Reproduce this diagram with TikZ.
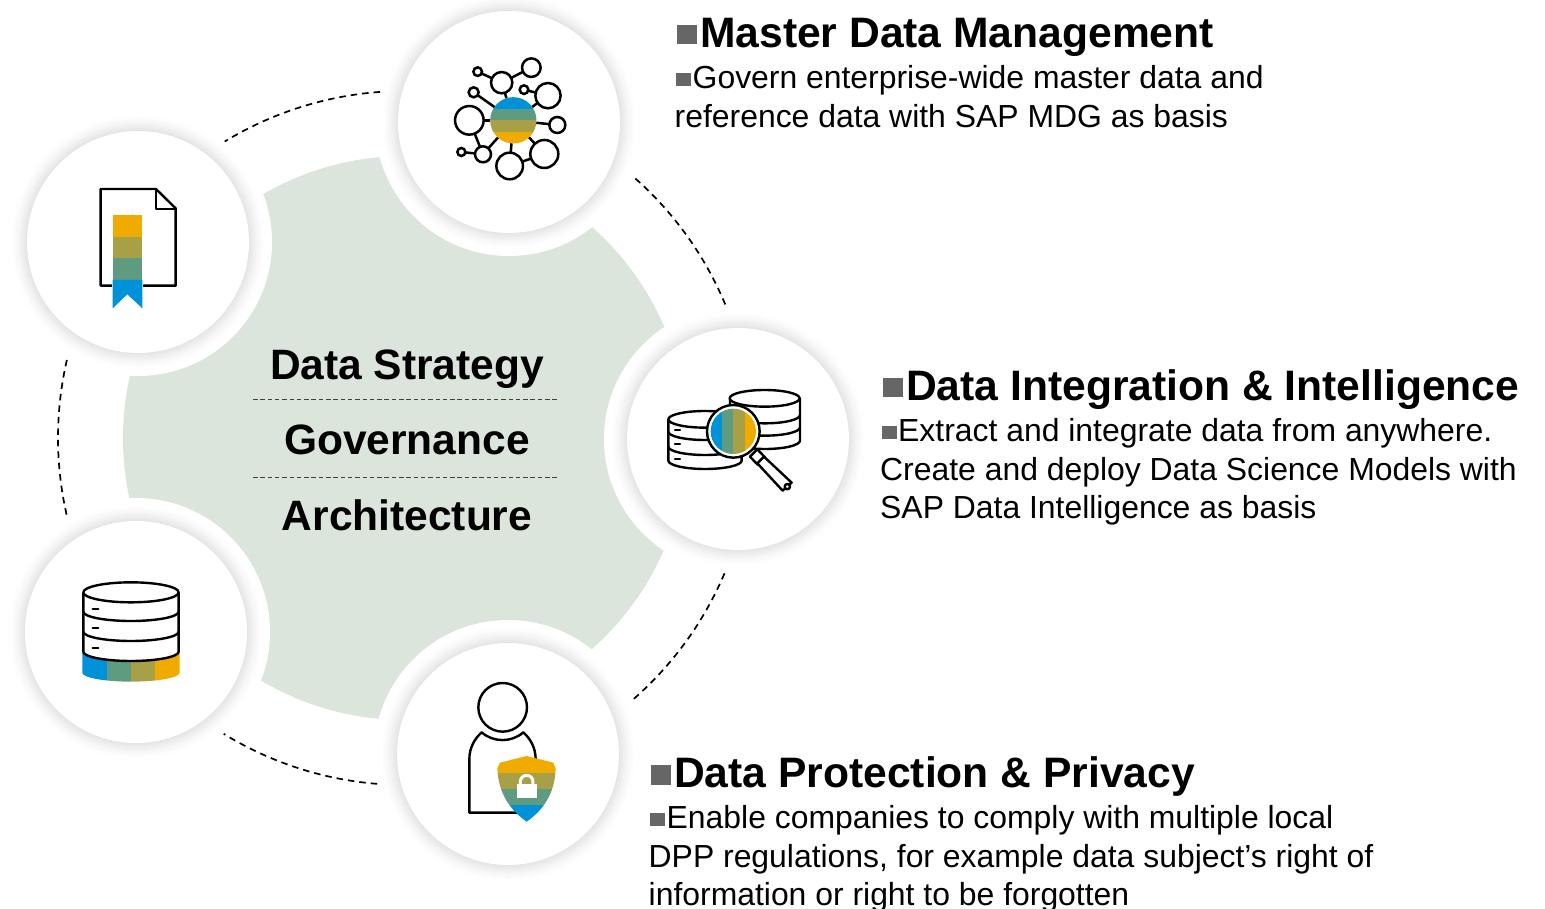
\documentclass[tikz,border=0pt]{standalone}
\usepackage{fontspec}
\setmainfont{Liberation Sans}
\usetikzlibrary{calc}
\definecolor{sblue}{HTML}{0092D8}
\definecolor{sgreen}{HTML}{5F9B80}
\definecolor{solive}{HTML}{A8A046}
\definecolor{syellow}{HTML}{F0AB00}
\definecolor{blob}{HTML}{DCE5DB}
\definecolor{bul}{HTML}{666666}
\newcommand{\titlebul}{\kern1pt\textcolor{bul}{\rule[3pt]{20pt}{19.5pt}}\kern3pt}
\newcommand{\bodybul}{\kern1.5pt\textcolor{bul}{\rule[3pt]{15pt}{13pt}}\kern1.5pt}
\tikzset{
  x=1pt,y=-1pt,
  bubble/.style={circle,minimum size=222pt,inner sep=0pt,fill=white,draw=none},
  ring dash/.style={draw=black,line width=1.7pt,dash pattern=on 6.5pt off 5pt},
  rule dash/.style={draw=black!75,line width=0.9pt,dash pattern=on 4.5pt off 2.8pt},
  center label/.style={font=\fontsize{42.5}{48}\selectfont\bfseries,inner sep=0pt,anchor=base},
  head label/.style={font=\fontsize{42.6}{48}\selectfont\bfseries,inner sep=0pt,anchor=base west},
  body label/.style={font=\fontsize{31.9}{38.4}\selectfont,inner sep=0pt,anchor=north west,align=left},
  ico/.style={draw=black,line width=2.4pt,line join=round},
  netnode/.style={circle,draw=black,line width=2.5pt,fill=white,inner sep=0pt,outer sep=0pt},
}
\begin{document}
\begin{tikzpicture}[x=1pt,y=-1pt]
\useasboundingbox (0,0) rectangle (1545,909);
\coordinate (cen) at (405,438);
\fill[blob] (cen) circle (282);
% halos
\foreach \px/\py in {509/122,738/439,508/754,136/632,138/242}{
  \fill[white] (\px,\py) circle (134);
  \foreach \rr in {128,127,...,111}{
    \pgfmathsetmacro{\sh}{11*((128-\rr)/17)^1.5}
    \fill[black!\sh!white] (\px,\py) circle (\rr);
  }
}
\foreach \nm/\px/\py in {a/509/122,b/738/439,c/508/754,d/136/632,e/138/242}{
  \node[bubble] (\nm) at (\px,\py) {};
}
% dashed ring
\draw[ring dash] (cen) ++(265.87:347) arc[start angle=265.87,end angle=238.7,radius=347];
\draw[ring dash] (cen) ++(-48.4:347) arc[start angle=-48.4,end angle=-22.4,radius=347];
\draw[ring dash] (cen) ++(22.96:347) arc[start angle=22.96,end angle=49.4,radius=347];
\draw[ring dash] (cen) ++(94.6:347) arc[start angle=94.6,end angle=121.5,radius=347];
\draw[ring dash] (cen) ++(193:347) arc[start angle=193,end angle=166.6,radius=347];
% centre text
\node[center label] (t1) at (407,379.5) {Data Strategy};
\node[center label] (t2) at (407,454.5) {Governance};
\node[center label] (t3) at (407,530.5) {Architecture};
\coordinate (r1a) at (253,399); \coordinate (r1b) at (558,399);
\coordinate (r2a) at (253,477); \coordinate (r2b) at (558,477);
\draw[rule dash] (r1a) -- (r1b);
\draw[rule dash] (r2a) -- (r2b);
% right texts
\node[head label] (h1) at (676,47.5) {\titlebul Master Data Management};
\node[body label] (b1) at (674.5,65.5) {\bodybul Govern enterprise-wide master data and\\reference data with SAP MDG as basis};
\node[head label] (h2) at (882,400) {\titlebul Data Integration \& Intelligence};
\node[body label] (b2) at (880,418.5) {\bodybul Extract and integrate data from anywhere.\\Create and deploy Data Science Models with\\SAP Data Intelligence as basis};
\node[head label] (h3) at (650,787.5) {\titlebul Data Protection \& Privacy};
\node[body label] (b3) at (648.5,805.5) {\bodybul Enable companies to comply with multiple local\\DPP regulations, for example data subject’s right of\\information or right to be forgotten};
% ---- network icon
\begin{scope}[shift={(430,40)},x=0.3333pt,y=-0.3333pt]
  \node[circle,minimum size=46pt,inner sep=0pt,outer sep=0pt] (nc) at (250,241) {};
  \foreach \nm/\nx/\ny/\nd in {nA/215/128/21.3,nB/304/83/18.6,nC/143/95/8.6,nD/131/157/10,nE/282/149/8.6,nF/354/167/25.3,nG/118/241/28.6,nH/382/255/16,nI/343/342/28,nJ/239/378/26.6,nK/159/343/16,nL/94/336/8}{
    \node[netnode,minimum size=\nd pt] (\nm) at (\nx,\ny) {};
  }
  \foreach \u/\v in {nC/nA,nA/nB,nA/nc,nD/nc,nE/nF,nF/nc,nG/nc,nH/nc,nI/nc,nI/nJ,nJ/nc,nK/nc,nG/nK,nK/nL}{
    \draw[line width=2.5pt] (\u) -- (\v);
  }
  \begin{scope}
    \clip (250,241) circle (69.5);
    \fill[sblue] (170,165) rectangle (330,207);
    \fill[sgreen] (170,207) rectangle (330,241);
    \fill[solive] (170,241) rectangle (330,276);
    \fill[syellow] (170,276) rectangle (330,320);
  \end{scope}
\end{scope}
% ---- databases + magnifier
\begin{scope}[shift={(650,370)},x=0.3333pt,y=-0.3333pt]
  \draw[ico,fill=white] (240,85) -- (240,212) arc[start angle=180,end angle=360,x radius=105,y radius=-25] -- (450,85);
  \draw[ico,fill=white] (344,85) ellipse[x radius=105,y radius=25];
  \draw[ico] (240,135) arc[start angle=180,end angle=360,x radius=105,y radius=-25];
  \draw[ico] (240,172) arc[start angle=180,end angle=360,x radius=105,y radius=-25];
  \draw[ico,fill=white] (55,148) -- (55,272) arc[start angle=180,end angle=360,x radius=110,y radius=-25] -- (275,148);
  \draw[ico,fill=white] (165,148) ellipse[x radius=110,y radius=25];
  \draw[ico] (55,185) arc[start angle=180,end angle=360,x radius=110,y radius=-25];
  \draw[ico] (55,230) arc[start angle=180,end angle=360,x radius=110,y radius=-25];
  \foreach \yy in {180,222,268}{\draw[line width=2.3pt,line cap=round] (75,\yy) -- (90,\yy);}
  % handle
  \draw[ico,fill=white] (300,260) -- (322,238) -- (345,262) -- (323,284) -- cycle;
  \draw[ico,fill=white] (322,280) -- (342,260) -- (425,338) -- (398,362) -- cycle;
  \draw[ico,fill=white] (412,350) circle (8);
  \draw[ico,fill=white] (250,184) circle (79);
  \begin{scope}
    \clip (250,184) circle (68);
    \fill[sblue] (180,110) rectangle (217,260);
    \fill[sgreen] (217,110) rectangle (250,260);
    \fill[solive] (250,110) rectangle (284,260);
    \fill[syellow] (284,110) rectangle (320,260);
  \end{scope}
\end{scope}
% ---- person + shield
\begin{scope}[shift={(440,670)},x=0.3333pt,y=-0.3333pt]
  \draw[ico] (188,112) circle (73);
  \draw[ico] (240,428) -- (88,428) -- (88,268) .. controls (88,232) and (105,205) .. (125,187) .. controls (160,218) and (215,218) .. (250,187) .. controls (270,205) and (287,232) .. (287,268);
  \begin{scope}
    \clip (172,295) -- (180,278) -- (260,258) -- (340,278) -- (347,295) .. controls (345,370) and (310,420) .. (260,455) .. controls (210,420) and (175,370) .. (172,295) -- cycle;
    \fill[syellow] (165,250) rectangle (355,308);
    \fill[solive] (165,308) rectangle (355,358);
    \fill[sgreen] (165,358) rectangle (355,406);
    \fill[sblue] (165,406) rectangle (355,460);
  \end{scope}
  \fill[white] (230,342) rectangle (290,385);
  \draw[white,line width=3pt] (241,345) -- (241,335) arc[start angle=180,end angle=360,x radius=19,y radius=19] -- (279,345);
\end{scope}
% ---- cylinder
\begin{scope}[shift={(70,570)},x=0.3333pt,y=-0.3333pt]
  \begin{scope}
    \clip (37,240) -- (37,308) arc[start angle=180,end angle=360,x radius=146,y radius=-27] -- (329,240) -- cycle;
    \fill[sblue] (30,235) rectangle (110,340);
    \fill[sgreen] (110,235) rectangle (183,340);
    \fill[solive] (183,235) rectangle (256,340);
    \fill[syellow] (256,235) rectangle (335,340);
  \end{scope}
  \draw[ico,fill=white] (40,67) -- (40,245) arc[start angle=180,end angle=360,x radius=143,y radius=-28] -- (326,67);
  \draw[ico,fill=white] (183,67) ellipse[x radius=143,y radius=30];
  \draw[ico] (40,125) arc[start angle=180,end angle=360,x radius=143,y radius=-28];
  \draw[ico] (40,185) arc[start angle=180,end angle=360,x radius=143,y radius=-28];
  \foreach \yy in {117,175,235}{\draw[line width=2.3pt,line cap=round] (68,\yy) -- (85,\yy);}
\end{scope}
% ---- document
\begin{scope}[shift={(85,175)},x=0.3333pt,y=-0.3333pt]
  \draw[ico,fill=white] (47,42) -- (213,42) -- (272,100) -- (272,332) -- (47,332) -- cycle;
  \draw[ico] (213,42) -- (213,102) -- (272,102);
  \fill[white] (80,117) rectangle (175,335);
  \fill[syellow] (83,120) rectangle (172,185);
  \fill[solive] (83,185) rectangle (172,250);
  \fill[sgreen] (83,250) rectangle (172,315);
  \fill[sblue] (83,315) -- (172,315) -- (172,400) -- (127,358) -- (83,400) -- cycle;
\end{scope}
\end{tikzpicture}
\end{document}
